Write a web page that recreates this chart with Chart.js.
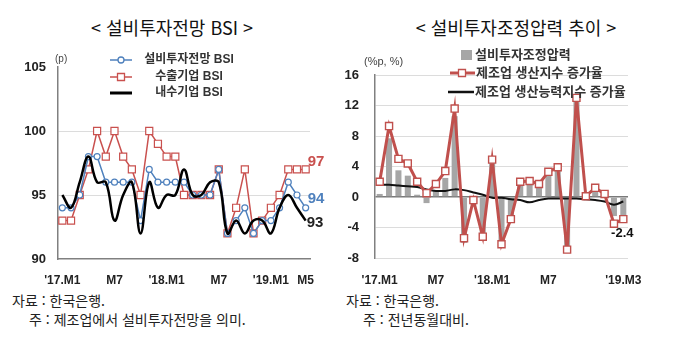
<!DOCTYPE html>
<html lang="ko">
<head>
<meta charset="utf-8">
<script src="https://cdn.jsdelivr.net/npm/chart.js@4.4.1/dist/chart.umd.min.js"></script>
<style>
  body { margin: 0; width: 680px; height: 352px; background: #fff; position: relative; overflow: hidden; font-family: "Noto Sans CJK KR", sans-serif; }
  .title { position: absolute; top: 15px; width: 344px; text-align: center; font-size: 18px; line-height: 24px; color: #111; white-space: nowrap; }
  .note { position: absolute; font-size: 14px; line-height: 18px; color: #222; white-space: nowrap; }
  .unit { position: absolute; font-size: 10px; color: #444; font-family: "Liberation Sans", sans-serif; white-space: nowrap; }
  canvas { position: absolute; }
</style>
</head>
<body>
<div class="title" style="left:0">&lt; 설비투자전망 BSI &gt;</div>
<div class="title" style="left:344px">&lt; 설비투자조정압력 추이 &gt;</div>

<canvas id="bsiChart" width="340" height="245" style="left:0;top:40px"></canvas>
<canvas id="adjChart" width="340" height="245" style="left:340px;top:40px"></canvas>

<div class="unit" style="left:55px;top:53px">(p)</div>
<div class="unit" style="left:364px;top:55px;font-size:11px">(%p, %)</div>

<div class="note" style="left:12px;top:291px">자료 : 한국은행.</div>
<div class="note" style="left:29px;top:310px">주 : 제조업에서 설비투자전망을 의미.</div>
<div class="note" style="left:346px;top:291px">자료 : 한국은행.</div>
<div class="note" style="left:363px;top:310px">주 : 전년동월대비.</div>

<script>
// left chart: 설비투자전망 BSI, 2017.1 ~ 2019.5
const bsiMonths = ["2017.01","2017.02","2017.03","2017.04","2017.05","2017.06","2017.07","2017.08","2017.09","2017.10","2017.11","2017.12",
  "2018.01","2018.02","2018.03","2018.04","2018.05","2018.06","2018.07","2018.08","2018.09","2018.10","2018.11","2018.12",
  "2019.01","2019.02","2019.03","2019.04","2019.05"];
const bsiTicks = ["'17.M1", "M7", "'18.M1", "M7", "'19.M1", "M5"];
const bsiTickIdx = [0, 6, 12, 18, 24, 28];
const equipBSI = [94,94,95,98,98,96,96,96,96,93,97,96,96,96,96,95,95,95,97,92,93,94,92,93,93,94,96,95,94];
const exportBSI = [93,93,95,97,100,98,100,98,97,95,100,99,98,98,95,95,95,95,97,92,94,97,92,93,94,95,97,97,97];
const domesticBSI = [95,94,96,98,96,96,93,95,96,92,96,94,95,95,97,95,95,96,96,92,93,92,93,93,92,94,95,94,93];

// right chart: 설비투자조정압력 추이, 2017.1 ~ 2019.3
const adjMonths = ["2017.01","2017.02","2017.03","2017.04","2017.05","2017.06","2017.07","2017.08","2017.09","2017.10","2017.11","2017.12",
  "2018.01","2018.02","2018.03","2018.04","2018.05","2018.06","2018.07","2018.08","2018.09","2018.10","2018.11","2018.12",
  "2019.01","2019.02","2019.03"];
const adjTicks = ["'17.M1", "M7", "'18.M1", "M7", "'19.M3"];
const adjTickIdx = [0, 6, 12, 18, 26];
const adjPressure = [0.4,7.7,3.5,2.8,0.3,-0.8,0.9,2.5,10.6,-6.0,-1.0,-5.2,4.8,-6.1,-2.6,1.6,2.2,1.4,3.0,3.8,-6.6,13.2,0.3,1.0,0.6,-2.5,-2.4];
const mfgProduction = [2.0,9.3,5.0,4.4,2.0,0.5,1.7,3.4,11.6,-5.4,-0.4,-5.2,4.9,-6.2,-2.9,2.0,2.1,1.7,3.3,3.9,-6.9,13.0,0.1,1.2,0.4,-3.5,-2.9];
const mfgCapacity = [1.6,1.6,1.5,1.4,1.3,1.0,0.8,0.8,1.0,0.9,0.6,0.3,-0.1,-0.1,-0.3,-0.4,-0.7,-0.4,-0.2,-0.2,-0.2,-0.2,-0.3,-0.4,-0.6,-1.0,-0.6];

Chart.defaults.font.family = "'Liberation Sans', 'Noto Sans CJK KR', sans-serif";
Chart.defaults.color = "#222";

const RED = "#c9504e";
const BLUE = "#4f81bd";
const legendFont = "bold 12px 'Liberation Sans', 'Noto Sans CJK KR', sans-serif";

function drawMarker(ctx, kind, x, y, color) {
  ctx.lineWidth = 1.3;
  ctx.strokeStyle = color;
  ctx.fillStyle = "#fff";
  ctx.beginPath();
  if (kind === "circle") {
    ctx.arc(x, y, 3, 0, Math.PI * 2);
  } else {
    ctx.rect(x - 3.5, y - 3.5, 7, 7);
  }
  ctx.fill();
  ctx.stroke();
}

const bsiExtras = {
  id: "bsiExtras",
  afterDraw: function (chart) {
    const ctx = chart.ctx;
    const ds = chart.data.datasets;
    ctx.save();
    // legend
    var rows = [
      { ds: ds[1], y: 20, marker: "circle", lw: 1.5 },
      { ds: ds[2], y: 37, marker: "rect", lw: 1.5 },
      { ds: ds[0], y: 53, marker: null, lw: 3 }
    ];
    rows.forEach(function (r) {
      ctx.strokeStyle = r.ds.borderColor;
      ctx.lineWidth = r.lw;
      ctx.beginPath();
      ctx.moveTo(110, r.y);
      ctx.lineTo(132, r.y);
      ctx.stroke();
      if (r.marker) drawMarker(ctx, r.marker, 121, r.y, r.ds.borderColor);
      ctx.font = legendFont;
      ctx.fillStyle = "#333";
      ctx.textAlign = "center";
      ctx.textBaseline = "middle";
      ctx.fillText(r.ds.label, 189, r.y);
    });
    // end labels
    var last = bsiMonths.length - 1;
    var xs = chart.scales.x.getPixelForValue(last);
    var ys = chart.scales.y;
    ctx.font = "bold 15px 'Liberation Sans', sans-serif";
    ctx.textAlign = "left";
    ctx.fillStyle = RED;
    ctx.fillText(String(exportBSI[last]), xs + 2, ys.getPixelForValue(exportBSI[last]) - 8);
    ctx.fillStyle = BLUE;
    ctx.fillText(String(equipBSI[last]), xs + 2, ys.getPixelForValue(equipBSI[last]) - 9);
    ctx.fillStyle = "#222";
    ctx.fillText(String(domesticBSI[last]), xs + 1, ys.getPixelForValue(domesticBSI[last]) + 2);
    ctx.restore();
  }
};

new Chart(document.getElementById("bsiChart"), {
  type: "line",
  data: {
    labels: bsiMonths,
    datasets: [
      { label: "내수기업 BSI", data: domesticBSI, borderColor: "#000", borderWidth: 2.5, pointRadius: 0, tension: 0.4, order: 0 },
      { label: "설비투자전망 BSI", data: equipBSI, borderColor: BLUE, borderWidth: 1.5, pointRadius: 3, pointBorderWidth: 1.2,
        pointBackgroundColor: "#fff", pointStyle: "circle", tension: 0, order: 1 },
      { label: "수출기업 BSI", data: exportBSI, borderColor: RED, borderWidth: 1.5, pointRadius: 5, pointBorderWidth: 1.2,
        pointBackgroundColor: "#fff", pointStyle: "rect", tension: 0, order: 2 }
    ]
  },
  options: {
    responsive: false,
    animation: false,
    layout: { padding: { top: 27, right: 30, left: 0, bottom: 0 } },
    plugins: { legend: { display: false }, tooltip: { enabled: false } },
    scales: {
      x: {
        offset: true,
        grid: { display: false },
        border: { display: true, color: "#808080", width: 1.5 },
        ticks: {
          autoSkip: false, maxRotation: 0, padding: 6,
          font: { size: 12, weight: "bold" }, color: "#222",
          callback: function (v, i) {
            var k = bsiTickIdx.indexOf(i);
            return k < 0 ? "" : bsiTicks[k];
          }
        },
        afterFit: function (s) { s.height = 26; }
      },
      y: {
        min: 90, max: 105,
        grid: {
          drawTicks: false,
          color: function (c) { return (c.tick.value === 95 || c.tick.value === 100) ? "#dcdcdc" : "rgba(0,0,0,0)"; }
        },
        border: { display: true, color: "#808080", width: 1.5 },
        ticks: { stepSize: 5, padding: 12, font: { size: 13, weight: "bold" }, color: "#222" },
        afterFit: function (s) { s.width = 58; }
      }
    }
  },
  plugins: [bsiExtras]
});

const adjExtras = {
  id: "adjExtras",
  afterDraw: function (chart) {
    const ctx = chart.ctx;
    const ds = chart.data.datasets;
    ctx.save();
    ctx.font = "bold 13px 'Liberation Sans', 'Noto Sans CJK KR', sans-serif";
    ctx.textAlign = "left";
    ctx.textBaseline = "middle";
    // legend: bar
    ctx.fillStyle = ds[2].backgroundColor;
    ctx.fillRect(121, 10, 11, 10);
    ctx.fillStyle = "#333";
    ctx.fillText(ds[2].label, 135, 15);
    // legend: production line
    ctx.strokeStyle = ds[0].borderColor;
    ctx.lineWidth = 3;
    ctx.beginPath();
    ctx.moveTo(110, 33);
    ctx.lineTo(135, 33);
    ctx.stroke();
    drawMarker(ctx, "rect", 122, 33, ds[0].borderColor);
    ctx.fillStyle = "#333";
    ctx.fillText(ds[0].label, 136, 33);
    // legend: capacity line
    ctx.strokeStyle = ds[1].borderColor;
    ctx.lineWidth = 2.5;
    ctx.beginPath();
    ctx.moveTo(108, 52);
    ctx.lineTo(134, 52);
    ctx.stroke();
    ctx.fillStyle = "#333";
    ctx.fillText(ds[1].label, 135, 52);
    // end label
    var last = adjMonths.length - 1;
    var xs = chart.scales.x.getPixelForValue(last);
    var ys = chart.scales.y.getPixelForValue(mfgProduction[last]);
    ctx.textAlign = "center";
    ctx.fillStyle = "#111";
    ctx.font = "bold 13px 'Liberation Sans', sans-serif";
    ctx.fillText(adjPressure[last].toFixed(1), xs - 1, ys + 14);
    ctx.restore();
  }
};

new Chart(document.getElementById("adjChart"), {
  type: "bar",
  data: {
    labels: adjMonths,
    datasets: [
      { type: "line", label: "제조업 생산지수 증가율", data: mfgProduction, borderColor: "#c0504d", borderWidth: 3,
        pointStyle: "rect", pointRadius: 5, pointBorderWidth: 1.4, pointBackgroundColor: "#fff", tension: 0, order: 0 },
      { type: "line", label: "제조업 생산능력지수 증가율", data: mfgCapacity, borderColor: "#111", borderWidth: 2,
        pointRadius: 0, tension: 0.4, order: 1 },
      { type: "bar", label: "설비투자조정압력", data: adjPressure, backgroundColor: "#a6a6a6",
        barPercentage: 0.7, categoryPercentage: 0.92, order: 2 }
    ]
  },
  options: {
    responsive: false,
    animation: false,
    layout: { padding: { top: 35, right: 52, left: 0, bottom: 0 } },
    plugins: { legend: { display: false }, tooltip: { enabled: false } },
    scales: {
      x: {
        offset: true,
        grid: { display: false },
        border: { display: false },
        ticks: {
          autoSkip: false, maxRotation: 0, padding: 7,
          font: { size: 12, weight: "bold" }, color: "#222",
          callback: function (v, i) {
            var k = adjTickIdx.indexOf(i);
            return k < 0 ? "" : adjTicks[k];
          }
        },
        afterFit: function (s) { s.height = 27; }
      },
      y: {
        min: -8, max: 16,
        grid: {
          drawTicks: false,
          color: function (c) { return c.tick.value === 0 ? "#7a7a7a" : "#dcdcdc"; },
          lineWidth: function (c) { return c.tick.value === 0 ? 1.5 : 1; }
        },
        border: { display: true, color: "#808080", width: 1.5 },
        ticks: { stepSize: 4, padding: 16, font: { size: 13, weight: "bold" }, color: "#222" },
        afterFit: function (s) { s.width = 35; }
      }
    }
  },
  plugins: [adjExtras]
});
</script>
</body>
</html>
